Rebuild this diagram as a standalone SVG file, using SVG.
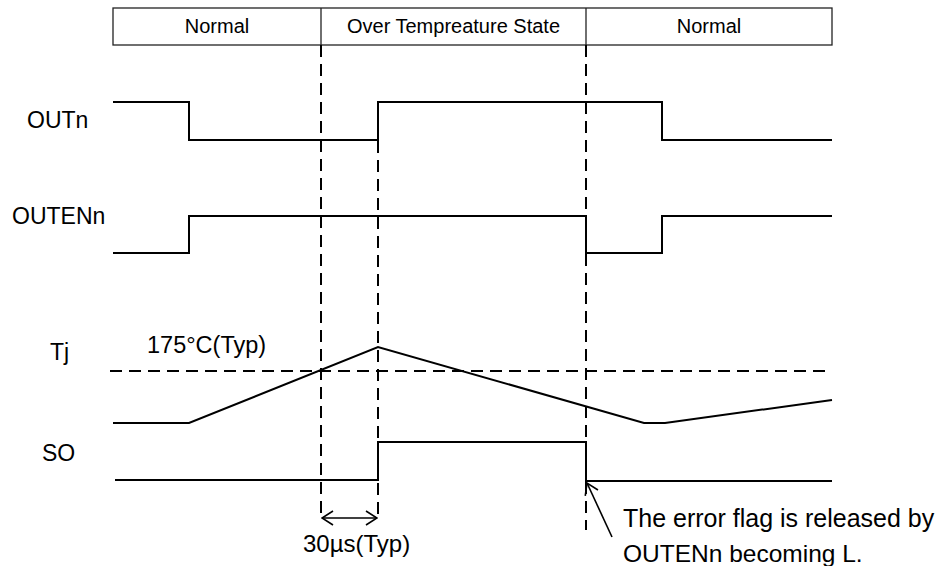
<svg xmlns="http://www.w3.org/2000/svg" width="941" height="566" viewBox="0 0 941 566">
<defs>
<style>
text{font-family:"Liberation Sans",Arial,sans-serif;fill:#000}
.hdr{font-size:20px;text-anchor:middle}
.lbl{font-size:23px}
.sig{fill:none;stroke:#000;stroke-width:2;stroke-linejoin:miter}
.dash{fill:none;stroke:#000;stroke-width:2;stroke-dasharray:12 7}
.box{fill:#fff;stroke:#222;stroke-width:1.3}
.conn{fill:none;stroke:#000;stroke-width:1.6}
</style>
<marker id="open" viewBox="0 0 14 16" refX="13" refY="8" markerWidth="14" markerHeight="16" markerUnits="userSpaceOnUse" orient="auto-start-reverse">
<path d="M2,1 L13,8 L2,15" fill="none" stroke="#000" stroke-width="1.6"/>
</marker>
</defs>
<rect width="941" height="566" fill="#fff"/>
<g id="header">
<rect class="box" x="113" y="8" width="719" height="37"/>
<line class="box" x1="321" y1="8" x2="321" y2="45"/>
<line class="box" x1="586" y1="8" x2="586" y2="45"/>
<text class="hdr" x="217" y="33">Normal</text>
<text class="hdr" x="453.5" y="33">Over Tempreature State</text>
<text class="hdr" x="709" y="33">Normal</text>
</g>
<g id="guides">
<line class="dash" x1="321" y1="45" x2="321" y2="520"/>
<line class="dash" x1="378" y1="141" x2="378" y2="520"/>
<line class="dash" x1="586" y1="45" x2="586" y2="530"/>
<line class="dash" x1="110" y1="371" x2="832" y2="371"/>
</g>
<g id="OUTn">
<text class="lbl" x="27" y="128">OUTn</text>
<path class="sig" d="M113,102 H189 V140 H378 V102 H662 V140 H832"/>
</g>
<g id="OUTENn">
<text class="lbl" x="12" y="224">OUTENn</text>
<path class="sig" d="M113,253 H189 V216 H586 V253 H662 V216 H832"/>
</g>
<g id="Tj">
<text class="lbl" x="50" y="360">Tj</text>
<text class="lbl" x="147" y="353" style="font-size:23.5px">175°C(Typ)</text>
<path class="sig" d="M113,423 H189 L378,347 L644,423 H665 L832,400"/>
</g>
<g id="SO">
<text class="lbl" x="42" y="461">SO</text>
<path class="sig" d="M115,480 H378 V442 H586 V481 H832"/>
</g>
<g id="connectors">
<line class="conn" x1="322" y1="518" x2="377" y2="518" marker-start="url(#open)" marker-end="url(#open)"/>
<line class="conn" x1="612" y1="537" x2="587" y2="483" marker-end="url(#open)"/>
</g>
<g id="notes">
<text class="lbl" x="303" y="552" style="font-size:24px">30µs(Typ)</text>
<text class="lbl" x="623" y="527" style="font-size:25px">The error flag is released by</text>
<text class="lbl" x="623" y="562" style="font-size:24.5px">OUTENn becoming L.</text>
</g>
</svg>
